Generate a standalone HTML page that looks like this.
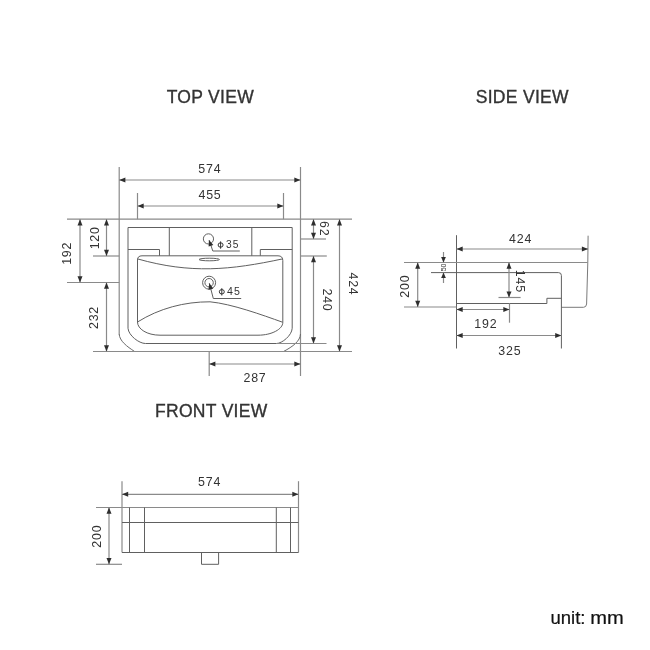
<!DOCTYPE html>
<html><head><meta charset="utf-8"><style>
html,body{margin:0;padding:0;background:#fff;width:650px;height:650px;overflow:hidden}
svg{display:block;will-change:transform}
text{font-family:"Liberation Sans",sans-serif}
</style></head><body>
<svg width="650" height="650" viewBox="0 0 650 650">
<rect width="650" height="650" fill="#fff"/>
<text x="210.3" y="103.0" font-size="17.5" letter-spacing="0.3" text-anchor="middle" fill="#333333" stroke="#333" stroke-width="0.35">TOP VIEW</text>
<text x="522.3" y="103.0" font-size="17.5" letter-spacing="0.3" text-anchor="middle" fill="#333333" stroke="#333" stroke-width="0.35">SIDE VIEW</text>
<text x="211.3" y="416.7" font-size="17.5" letter-spacing="0.3" text-anchor="middle" fill="#333333" stroke="#333" stroke-width="0.35">FRONT VIEW</text>
<text x="550.5" y="624.3" font-size="18" letter-spacing="0" text-anchor="start" fill="#111" stroke="#111" stroke-width="0.2" textLength="35" lengthAdjust="spacingAndGlyphs">unit:</text>
<text x="590.3" y="624.3" font-size="18" letter-spacing="0" text-anchor="start" fill="#111" stroke="#111" stroke-width="0.2" textLength="33.5" lengthAdjust="spacingAndGlyphs">mm</text>
<line x1="119.2" y1="167" x2="119.2" y2="334.5" stroke="#8a8a8a" stroke-width="1.2"/>
<line x1="300.5" y1="167" x2="300.5" y2="376" stroke="#8a8a8a" stroke-width="1.2"/>
<line x1="119.2" y1="180.0" x2="300.5" y2="180.0" stroke="#8a8a8a" stroke-width="1.2"/>
<polygon points="119.20,180.00 125.40,177.50 125.40,182.50" fill="#2e2e2e"/>
<polygon points="300.50,180.00 294.30,182.50 294.30,177.50" fill="#2e2e2e"/>
<text x="209.8" y="172.5" font-size="12.4" letter-spacing="0.8" text-anchor="middle" fill="#333333">574</text>
<line x1="137.5" y1="193" x2="137.5" y2="219.2" stroke="#8a8a8a" stroke-width="1.2"/>
<line x1="283.5" y1="193" x2="283.5" y2="219.2" stroke="#8a8a8a" stroke-width="1.2"/>
<line x1="137.5" y1="206.0" x2="283.5" y2="206.0" stroke="#8a8a8a" stroke-width="1.2"/>
<polygon points="137.50,206.00 143.70,203.50 143.70,208.50" fill="#2e2e2e"/>
<polygon points="283.50,206.00 277.30,208.50 277.30,203.50" fill="#2e2e2e"/>
<text x="210" y="198.8" font-size="12.4" letter-spacing="0.8" text-anchor="middle" fill="#333333">455</text>
<line x1="67" y1="219.2" x2="352" y2="219.2" stroke="#8a8a8a" stroke-width="1.2"/>
<path d="M119.2,334 C119.5,341 127,346.5 134.6,351.5" fill="none" stroke="#6a6a6a" stroke-width="1.0"/>
<path d="M300.5,334 C300.2,341 293,346.5 283.5,351.5" fill="none" stroke="#6a6a6a" stroke-width="1.0"/>
<line x1="93" y1="351.5" x2="352" y2="351.5" stroke="#8a8a8a" stroke-width="1.2"/>
<path d="M128,227.5 L292.2,227.5 M128,227.5 L128,328.3 C128.6,335.5 139,343.5 145.5,343.5 L276.5,343.5 C282,343.5 291.8,335.5 292.2,328.3 L292.2,227.5" fill="none" stroke="#606060" stroke-width="1.0"/>
<line x1="276.5" y1="343.5" x2="326.5" y2="343.5" stroke="#8a8a8a" stroke-width="1.2"/>
<line x1="169.3" y1="227.5" x2="169.3" y2="255.8" stroke="#606060" stroke-width="1.0"/>
<line x1="251.8" y1="227.5" x2="251.8" y2="255.8" stroke="#606060" stroke-width="1.0"/>
<path d="M128,249.5 L159.5,249.5 L159.5,255.8" fill="none" stroke="#606060" stroke-width="1.0"/>
<path d="M292.2,249.5 L260.3,249.5 L260.3,255.8" fill="none" stroke="#606060" stroke-width="1.0"/>
<path d="M142,255.8 L278,255.8 Q282.8,255.8 282.8,260.5 L282.8,322.5 C282.8,329 272,335.2 258,335.2 L160,335.2 C147,335.2 137.5,329 137.5,322 L137.5,260 Q137.5,255.8 142,255.8" fill="none" stroke="#606060" stroke-width="1.0"/>
<path d="M137.5,258.9 C190.6,273.9 229.9,270.2 283.0,258.8" fill="none" stroke="#606060" stroke-width="1.0"/>
<path d="M137.5,322.0 C159.2,308.4 184.5,301.7 210.0,301.8 C231.8,303.9 261.8,314.8 282.8,322.3" fill="none" stroke="#606060" stroke-width="1.0"/>
<ellipse cx="209.25" cy="259.5" rx="10.2" ry="1.3" fill="none" stroke="#606060" stroke-width="1.0"/>
<circle cx="208.45" cy="238.9" r="5.1" fill="none" stroke="#606060" stroke-width="1.0"/>
<path d="M209.2,240.2 L212.8,251.0 L239.8,251.0" fill="none" stroke="#606060" stroke-width="1.0"/>
<polygon points="208.90,239.90 213.33,244.91 208.62,246.58" fill="#2e2e2e"/>
<ellipse cx="220.6" cy="245.0" rx="2.5" ry="2.2" fill="none" stroke="#333333" stroke-width="1"/>
<line x1="220.6" y1="241.4" x2="220.6" y2="248.7" stroke="#333333" stroke-width="1"/>
<text x="226" y="247.6" font-size="10.2" letter-spacing="1.0" text-anchor="start" fill="#333333">35</text>
<circle cx="209.1" cy="282.7" r="6.5" fill="none" stroke="#606060" stroke-width="1.0"/>
<circle cx="209.1" cy="282.7" r="4.2" fill="none" stroke="#606060" stroke-width="1.0"/>
<path d="M209.3,283.2 L213.3,298.5 L241.2,298.5" fill="none" stroke="#606060" stroke-width="1.0"/>
<polygon points="209.30,283.20 213.29,288.57 208.45,289.83" fill="#2e2e2e"/>
<ellipse cx="221.8" cy="291.8" rx="2.5" ry="2.2" fill="none" stroke="#333333" stroke-width="1"/>
<line x1="221.8" y1="288.2" x2="221.8" y2="295.5" stroke="#333333" stroke-width="1"/>
<text x="227" y="294.9" font-size="10.6" letter-spacing="1.0" text-anchor="start" fill="#333333">45</text>
<line x1="93" y1="256.0" x2="119.2" y2="256.0" stroke="#8a8a8a" stroke-width="1.2"/>
<line x1="67" y1="282.5" x2="119.2" y2="282.5" stroke="#8a8a8a" stroke-width="1.2"/>
<line x1="106.5" y1="219.2" x2="106.5" y2="256.0" stroke="#8a8a8a" stroke-width="1.2"/>
<polygon points="106.50,219.20 109.00,225.40 104.00,225.40" fill="#2e2e2e"/>
<polygon points="106.50,256.00 104.00,249.80 109.00,249.80" fill="#2e2e2e"/>
<line x1="80.0" y1="219.2" x2="80.0" y2="282.5" stroke="#8a8a8a" stroke-width="1.2"/>
<polygon points="80.00,219.20 82.50,225.40 77.50,225.40" fill="#2e2e2e"/>
<polygon points="80.00,282.50 77.50,276.30 82.50,276.30" fill="#2e2e2e"/>
<line x1="106.5" y1="282.5" x2="106.5" y2="351.5" stroke="#8a8a8a" stroke-width="1.2"/>
<polygon points="106.50,282.50 109.00,288.70 104.00,288.70" fill="#2e2e2e"/>
<polygon points="106.50,351.50 104.00,345.30 109.00,345.30" fill="#2e2e2e"/>
<text x="99.4" y="237.8" font-size="12.4" letter-spacing="0.8" text-anchor="middle" fill="#333333" transform="rotate(-90 99.4 237.8)">120</text>
<text x="71.2" y="253.3" font-size="12.4" letter-spacing="0.8" text-anchor="middle" fill="#333333" transform="rotate(-90 71.2 253.3)">192</text>
<text x="97.7" y="317.5" font-size="12.4" letter-spacing="0.8" text-anchor="middle" fill="#333333" transform="rotate(-90 97.7 317.5)">232</text>
<line x1="300.5" y1="239.0" x2="326" y2="239.0" stroke="#8a8a8a" stroke-width="1.2"/>
<line x1="300.5" y1="256.0" x2="326.8" y2="256.0" stroke="#8a8a8a" stroke-width="1.2"/>
<line x1="313.5" y1="219.2" x2="313.5" y2="239.0" stroke="#8a8a8a" stroke-width="1.2"/>
<polygon points="313.50,219.20 316.00,225.40 311.00,225.40" fill="#2e2e2e"/>
<polygon points="313.50,239.00 311.00,232.80 316.00,232.80" fill="#2e2e2e"/>
<line x1="313.5" y1="256.0" x2="313.5" y2="343.5" stroke="#8a8a8a" stroke-width="1.2"/>
<polygon points="313.50,256.00 316.00,262.20 311.00,262.20" fill="#2e2e2e"/>
<polygon points="313.50,343.50 311.00,337.30 316.00,337.30" fill="#2e2e2e"/>
<line x1="339.5" y1="219.2" x2="339.5" y2="351.5" stroke="#8a8a8a" stroke-width="1.2"/>
<polygon points="339.50,219.20 342.00,225.40 337.00,225.40" fill="#2e2e2e"/>
<polygon points="339.50,351.50 337.00,345.30 342.00,345.30" fill="#2e2e2e"/>
<text x="320.2" y="228.8" font-size="12.4" letter-spacing="0.8" text-anchor="middle" fill="#333333" transform="rotate(90 320.2 228.8)">62</text>
<text x="322.8" y="300" font-size="12.4" letter-spacing="0.8" text-anchor="middle" fill="#333333" transform="rotate(90 322.8 300)">240</text>
<text x="348.8" y="284" font-size="12.4" letter-spacing="0.8" text-anchor="middle" fill="#333333" transform="rotate(90 348.8 284)">424</text>
<line x1="209.2" y1="351.5" x2="209.2" y2="376" stroke="#8a8a8a" stroke-width="1.2"/>
<line x1="209.2" y1="364" x2="300.5" y2="364" stroke="#8a8a8a" stroke-width="1.2"/>
<polygon points="209.20,364.00 215.40,361.50 215.40,366.50" fill="#2e2e2e"/>
<polygon points="300.50,364.00 294.30,366.50 294.30,361.50" fill="#2e2e2e"/>
<text x="255" y="381.7" font-size="12.4" letter-spacing="0.8" text-anchor="middle" fill="#333333">287</text>
<line x1="456.5" y1="235.2" x2="456.5" y2="348.5" stroke="#606060" stroke-width="1.0"/>
<path d="M588.1,235.7 L587.8,262.3 L586.6,304 Q586.3,307.3 583.5,307.3 L561.4,307.3" fill="none" stroke="#7a7a7a" stroke-width="1.0"/>
<line x1="456.5" y1="249.0" x2="588.1" y2="249.0" stroke="#8a8a8a" stroke-width="1.2"/>
<polygon points="456.50,249.00 462.70,246.50 462.70,251.50" fill="#2e2e2e"/>
<polygon points="588.10,249.00 581.90,251.50 581.90,246.50" fill="#2e2e2e"/>
<text x="520.6" y="243" font-size="12.4" letter-spacing="0.8" text-anchor="middle" fill="#333333">424</text>
<line x1="404" y1="262.5" x2="587.8" y2="262.5" stroke="#8a8a8a" stroke-width="1.2"/>
<path d="M431,272.6 L558.5,272.6 Q561.4,272.6 561.4,275.5 L561.4,348.5" fill="none" stroke="#606060" stroke-width="1.0"/>
<line x1="404" y1="307" x2="456.5" y2="307" stroke="#8a8a8a" stroke-width="1.2"/>
<path d="M456.5,303.5 L546.9,303.5 L546.9,298.3 L561.4,298.3" fill="none" stroke="#606060" stroke-width="1.0"/>
<line x1="509" y1="262.5" x2="509" y2="297.6" stroke="#8a8a8a" stroke-width="1.2"/>
<polygon points="509.00,262.50 511.50,268.70 506.50,268.70" fill="#2e2e2e"/>
<polygon points="509.00,297.60 506.50,291.40 511.50,291.40" fill="#2e2e2e"/>
<line x1="498.5" y1="297.5" x2="520.6" y2="297.5" stroke="#8a8a8a" stroke-width="1.2"/>
<text x="516" y="281.4" font-size="12.4" letter-spacing="0.8" text-anchor="middle" fill="#333333" transform="rotate(90 516 281.4)">145</text>
<line x1="509.5" y1="303.3" x2="509.5" y2="322.7" stroke="#8a8a8a" stroke-width="1.2"/>
<line x1="456.5" y1="309.5" x2="509.5" y2="309.5" stroke="#8a8a8a" stroke-width="1.2"/>
<polygon points="456.50,309.50 462.70,307.00 462.70,312.00" fill="#2e2e2e"/>
<polygon points="509.50,309.50 503.30,312.00 503.30,307.00" fill="#2e2e2e"/>
<text x="485.8" y="327.8" font-size="12.4" letter-spacing="0.8" text-anchor="middle" fill="#333333">192</text>
<line x1="456.5" y1="335.5" x2="561.4" y2="335.5" stroke="#8a8a8a" stroke-width="1.2"/>
<polygon points="456.50,335.50 462.70,333.00 462.70,338.00" fill="#2e2e2e"/>
<polygon points="561.40,335.50 555.20,338.00 555.20,333.00" fill="#2e2e2e"/>
<text x="509.8" y="354.8" font-size="12.4" letter-spacing="0.8" text-anchor="middle" fill="#333333">325</text>
<line x1="417.7" y1="262.5" x2="417.7" y2="307" stroke="#8a8a8a" stroke-width="1.2"/>
<polygon points="417.70,262.50 420.20,268.70 415.20,268.70" fill="#2e2e2e"/>
<polygon points="417.70,307.00 415.20,300.80 420.20,300.80" fill="#2e2e2e"/>
<text x="409" y="286.2" font-size="12.4" letter-spacing="0.8" text-anchor="middle" fill="#333333" transform="rotate(-90 409 286.2)">200</text>
<line x1="443.5" y1="252" x2="443.5" y2="262.5" stroke="#8a8a8a" stroke-width="1.2"/>
<polygon points="443.50,262.50 441.10,257.00 445.90,257.00" fill="#2e2e2e"/>
<line x1="443.5" y1="272.6" x2="443.5" y2="283" stroke="#8a8a8a" stroke-width="1.2"/>
<polygon points="443.50,272.60 445.90,278.10 441.10,278.10" fill="#2e2e2e"/>
<text x="446" y="267.4" font-size="7" letter-spacing="0" text-anchor="middle" fill="#333333" transform="rotate(-90 446 267.4)">50</text>
<line x1="122" y1="481.2" x2="122" y2="552.5" stroke="#8a8a8a" stroke-width="1.2"/>
<line x1="298.5" y1="481.2" x2="298.5" y2="552.5" stroke="#8a8a8a" stroke-width="1.2"/>
<line x1="122" y1="494.3" x2="298.5" y2="494.3" stroke="#8a8a8a" stroke-width="1.2"/>
<polygon points="122.00,494.30 128.20,491.80 128.20,496.80" fill="#2e2e2e"/>
<polygon points="298.50,494.30 292.30,496.80 292.30,491.80" fill="#2e2e2e"/>
<text x="209.6" y="485.8" font-size="12.4" letter-spacing="0.8" text-anchor="middle" fill="#333333">574</text>
<line x1="96" y1="507.5" x2="298.5" y2="507.5" stroke="#8a8a8a" stroke-width="1.2"/>
<line x1="122" y1="522.5" x2="298.5" y2="522.5" stroke="#606060" stroke-width="1.0"/>
<line x1="122" y1="552.5" x2="298.5" y2="552.5" stroke="#606060" stroke-width="1.0"/>
<line x1="129.5" y1="507.5" x2="129.5" y2="552.5" stroke="#606060" stroke-width="1.0"/>
<line x1="144.5" y1="507.5" x2="144.5" y2="552.5" stroke="#606060" stroke-width="1.0"/>
<line x1="276.3" y1="507.5" x2="276.3" y2="552.5" stroke="#606060" stroke-width="1.0"/>
<line x1="290.5" y1="507.5" x2="290.5" y2="552.5" stroke="#606060" stroke-width="1.0"/>
<path d="M201.5,552.5 L201.5,564.3 L218.6,564.3 L218.6,552.5" fill="none" stroke="#606060" stroke-width="1.0"/>
<line x1="96" y1="564.3" x2="122" y2="564.3" stroke="#8a8a8a" stroke-width="1.2"/>
<line x1="109.0" y1="507.5" x2="109.0" y2="564.3" stroke="#8a8a8a" stroke-width="1.2"/>
<polygon points="109.00,507.50 111.50,513.70 106.50,513.70" fill="#2e2e2e"/>
<polygon points="109.00,564.30 106.50,558.10 111.50,558.10" fill="#2e2e2e"/>
<text x="101.2" y="536.2" font-size="12.4" letter-spacing="0.8" text-anchor="middle" fill="#333333" transform="rotate(-90 101.2 536.2)">200</text>
</svg>
</body></html>
